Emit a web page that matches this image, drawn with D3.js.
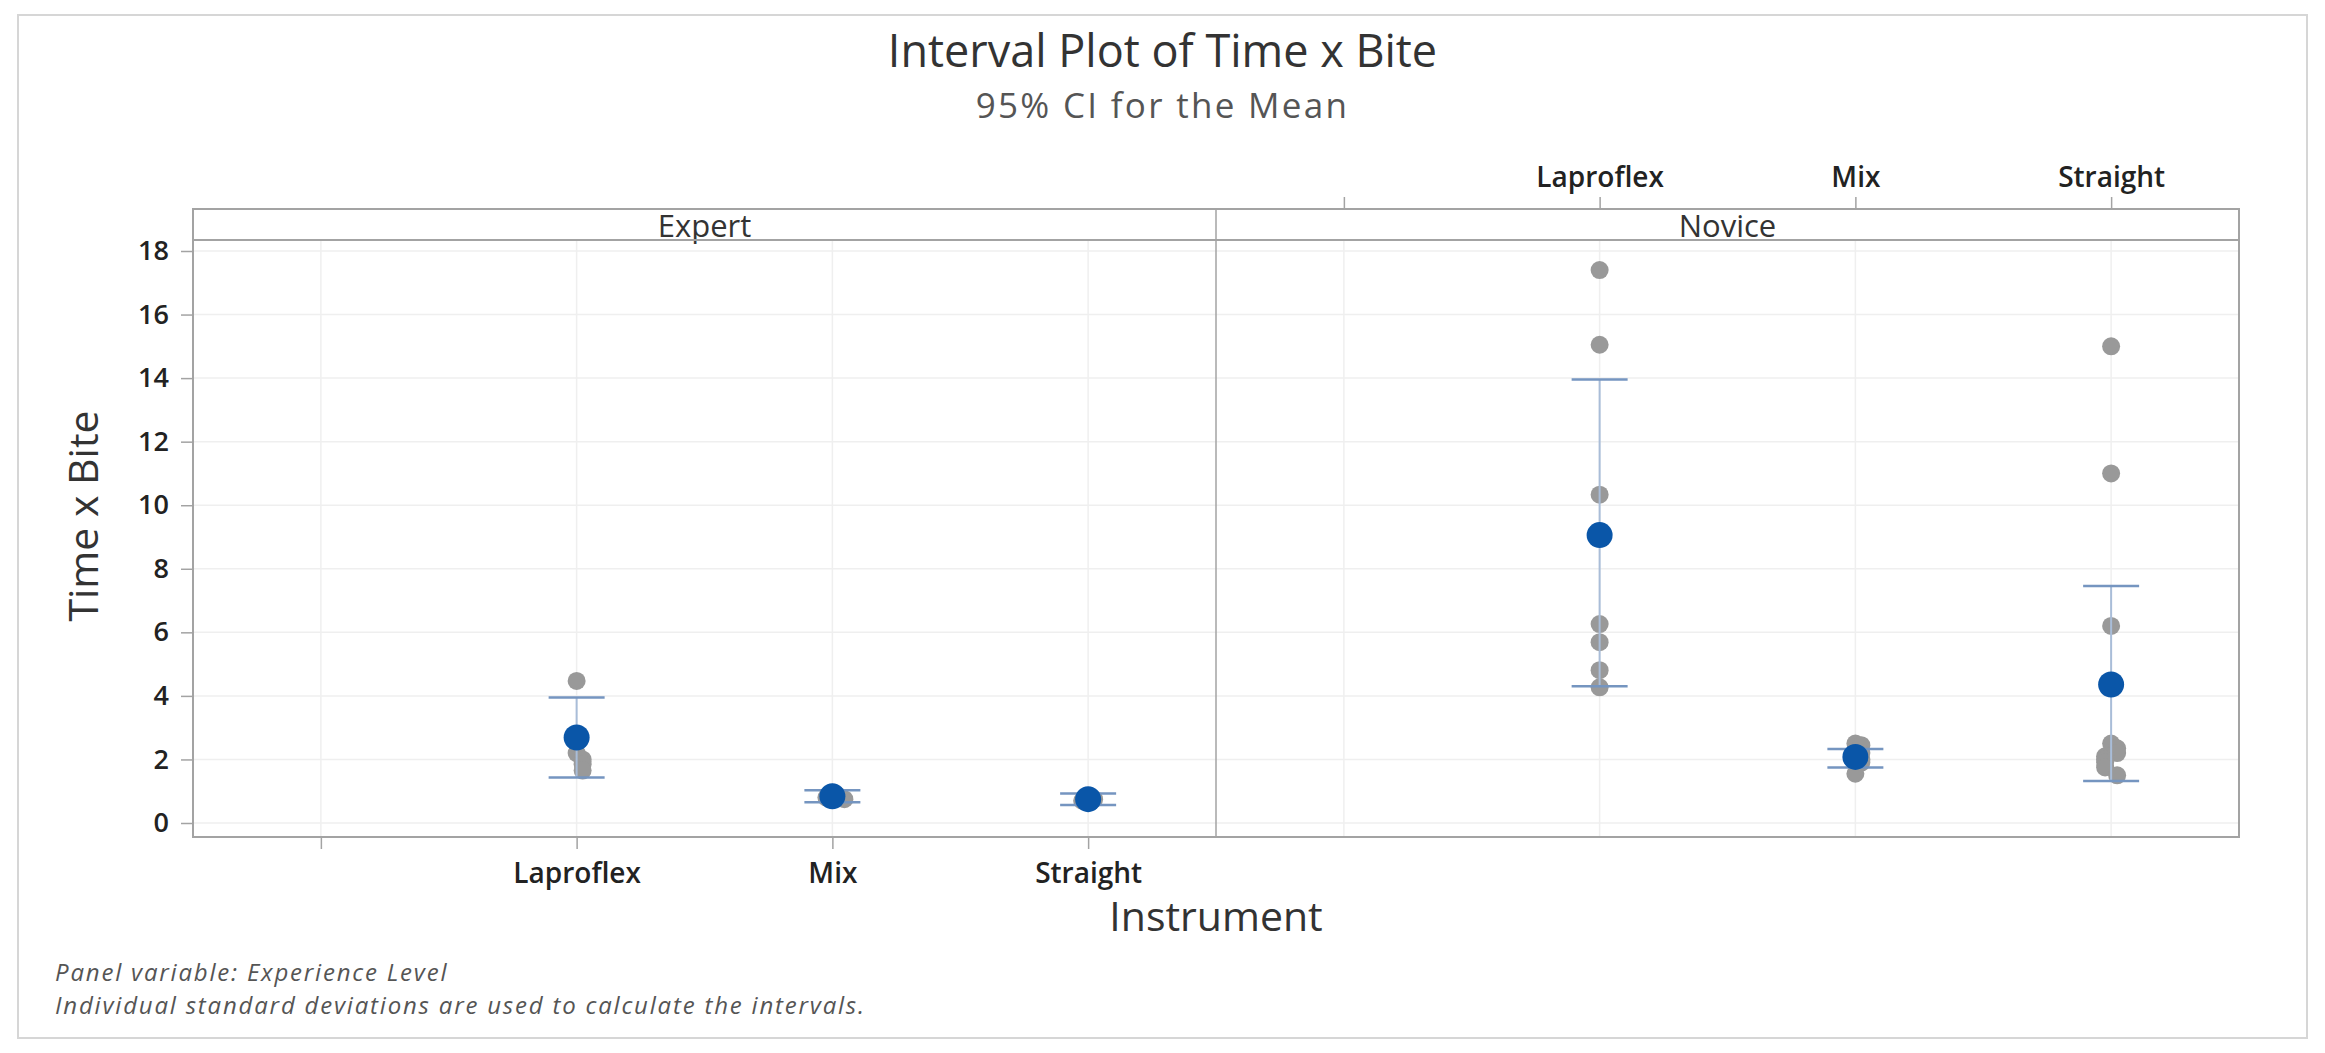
<!DOCTYPE html>
<html>
<head>
<meta charset="utf-8">
<script src="https://cdn.jsdelivr.net/npm/d3@7"></script>
<style>
  html, body { margin: 0; padding: 0; background: #fff; }
  svg { display: block; }
  text { font-family: "Open Sans", "Noto Sans", sans-serif; }
</style>
</head>
<body>
<svg id="chart" width="2325" height="1053"></svg>
<script>
// ---------------- DATA ----------------
const levels = ["Expert", "Novice"];
const instruments = ["Laproflex", "Mix", "Straight"];
const yTicks = [0, 2, 4, 6, 8, 10, 12, 14, 16, 18];

const expertMeans = [2.69, 0.84, 0.75];
const expertLower = [1.43, 0.65, 0.57];
const expertUpper = [3.95, 1.03, 0.93];

const noviceMeans = [9.06, 2.08, 4.36];
const noviceLower = [4.30, 1.75, 1.32];
const noviceUpper = [13.96, 2.33, 7.46];

const expertLaproflexObs = [4.47, 2.2, 2.0, 1.85, 1.65];
const expertMixObs = [0.95, 0.85, 0.8, 0.75];
const expertStraightObs = [0.82, 0.75, 0.7];

const noviceLaproflexObs = [17.4, 15.05, 10.33, 6.26, 5.69, 4.81, 4.27];
const noviceMixObs = [2.5, 2.45, 2.2, 2.0, 1.9, 1.55];
const noviceStraightObs = [15.0, 11.0, 6.2, 2.5, 2.35, 2.2, 2.1, 2.0, 1.9, 1.75, 1.5];

const titleText = "Interval Plot of Time x Bite";
const subtitleText = "95% CI for the Mean";
const yTitle = "Time x Bite";
const xTitle = "Instrument";
const notes = ["Panel variable: Experience Level",
               "Individual standard deviations are used to calculate the intervals."];

// ---------------- LAYOUT ----------------
const svg = d3.select("#chart");
const W = 2325, H = 1053;
const frame = { left: 193, right: 2239, top: 209, stripBottom: 240, bottom: 837 };
const panelW = (frame.right - frame.left) / levels.length;

const panels = [
  { name: levels[0], means: expertMeans, lower: expertLower, upper: expertUpper,
    obs: [expertLaproflexObs, expertMixObs, expertStraightObs], axis: "bottom" },
  { name: levels[1], means: noviceMeans, lower: noviceLower, upper: noviceUpper,
    obs: [noviceLaproflexObs, noviceMixObs, noviceStraightObs], axis: "top" }
];

const slots = [" "].concat(instruments);
const y = d3.scaleLinear().domain([0, 18]).range([823, 251]);

const gridColor = "#efefef";
const frameColor = "#a3a3a3";
const grayDot = "#999999";
const meanBlue = "#0a56a8";
const ciLine = "#a9bdd8";
const ciCap = "#7595c0";
const tickFont = '"Open Sans", sans-serif';

// outer border
svg.append("rect").attr("x", 18).attr("y", 15).attr("width", 2289).attr("height", 1023)
  .attr("fill", "#fff").attr("stroke", "#d6d6d6").attr("stroke-width", 2);

// title
svg.append("text").attr("x", W / 2).attr("y", 67).attr("text-anchor", "middle")
  .attr("font-size", 45).attr("fill", "#333").text(titleText);
svg.append("text").attr("x", W / 2).attr("y", 118).attr("text-anchor", "middle")
  .attr("font-size", 35).attr("letter-spacing", 2.3).attr("fill", "#555").text(subtitleText);

// horizontal gridlines across all panels
svg.append("g").selectAll("line").data(yTicks).join("line")
  .attr("x1", frame.left).attr("x2", frame.right)
  .attr("y1", d => y(d)).attr("y2", d => y(d))
  .attr("stroke", gridColor).attr("stroke-width", 1.5);

panels.forEach((p, i) => {
  const x0 = frame.left + i * panelW;
  const x = d3.scalePoint().domain(slots).range([x0, x0 + panelW]).padding(0.5);
  const g = svg.append("g");

  // vertical gridlines
  g.selectAll("line.vg").data(slots).join("line").attr("class", "vg")
    .attr("x1", d => x(d)).attr("x2", d => x(d))
    .attr("y1", frame.stripBottom).attr("y2", frame.bottom)
    .attr("stroke", gridColor).attr("stroke-width", 1.5);

  // strip label
  g.append("text").attr("x", x0 + panelW / 2).attr("y", 237).attr("text-anchor", "middle")
    .attr("font-size", 31).attr("fill", "#333").text(p.name);

  // axis
  const axisFn = p.axis === "bottom" ? d3.axisBottom(x) : d3.axisTop(x);
  const ax = g.append("g")
    .attr("transform", `translate(0,${p.axis === "bottom" ? frame.bottom : frame.top})`)
    .call(axisFn.tickSize(12).tickPadding(p.axis === "bottom" ? 12 : 10).tickFormat(d => d.trim()));
  ax.select(".domain").remove();
  ax.selectAll(".tick line").attr("stroke", frameColor).attr("stroke-width", 1.5);
  ax.selectAll(".tick text").attr("font-size", 28).attr("font-weight", 600)
    .attr("fill", "#222")
    .style("font-family", tickFont);
  if (p.axis === "bottom") ax.selectAll(".tick text").attr("dy", "0.8em");

  // observations (gray), with small deterministic side-by-side spread for overlaps
  instruments.forEach((inst, j) => {
    const vals = p.obs[j];
    const placed = [];
    const pts = vals.map(v => {
      const py = y(v);
      const k = placed.filter(q => Math.abs(q - py) < 9).length;
      placed.push(py);
      const off = k === 0 ? 0 : (k % 2 ? 1 : -1) * Math.ceil(k / 2) * 6;
      return { v, off };
    });
    g.selectAll(null).data(pts).join("circle")
      .attr("cx", d => x(inst) + d.off).attr("cy", d => y(d.v)).attr("r", 9)
      .attr("fill", grayDot);
  });

  // CI lines
  g.selectAll("line.ci").data(instruments).join("line").attr("class", "ci")
    .attr("x1", d => x(d)).attr("x2", d => x(d))
    .attr("y1", (d, j) => y(p.upper[j])).attr("y2", (d, j) => y(p.lower[j]))
    .attr("stroke", ciLine).attr("stroke-width", 2);
  // caps
  ["upper", "lower"].forEach(key => {
    g.selectAll(null).data(instruments).join("line")
      .attr("x1", d => x(d) - 28).attr("x2", d => x(d) + 28)
      .attr("y1", (d, j) => y(p[key][j])).attr("y2", (d, j) => y(p[key][j]))
      .attr("stroke", ciCap).attr("stroke-width", 2.5);
  });
  // means
  g.selectAll("circle.mean").data(instruments).join("circle").attr("class", "mean")
    .attr("cx", d => x(d)).attr("cy", (d, j) => y(p.means[j])).attr("r", 13)
    .attr("fill", meanBlue);
});

// frame lines
const fg = svg.append("g").attr("fill", "none").attr("stroke", frameColor).attr("stroke-width", 2);
fg.append("rect").attr("x", frame.left).attr("y", frame.top)
  .attr("width", frame.right - frame.left).attr("height", frame.bottom - frame.top);
fg.append("line").attr("x1", frame.left).attr("x2", frame.right)
  .attr("y1", frame.stripBottom).attr("y2", frame.stripBottom);
for (let i = 1; i < levels.length; i++) {
  fg.append("line").attr("x1", frame.left + i * panelW).attr("x2", frame.left + i * panelW)
    .attr("y1", frame.top).attr("y2", frame.bottom).attr("stroke-width", 1.5);
}

// y axis
const yAx = svg.append("g").attr("transform", `translate(${frame.left},0)`)
  .call(d3.axisLeft(y).tickValues(yTicks).tickSize(12).tickPadding(12));
yAx.select(".domain").remove();
yAx.selectAll(".tick line").attr("stroke", frameColor).attr("stroke-width", 1.5);
yAx.selectAll(".tick text").attr("font-size", 27).attr("font-weight", 600).attr("fill", "#222")
  .style("font-family", tickFont);

// axis titles
svg.append("text").attr("transform", "translate(98,516) rotate(-90)")
  .attr("text-anchor", "middle").attr("font-size", 41).attr("fill", "#333").text(yTitle);
svg.append("text").attr("x", (frame.left + frame.right) / 2).attr("y", 931)
  .attr("text-anchor", "middle").attr("font-size", 41).attr("fill", "#333").text(xTitle);

// notes
svg.append("g").selectAll("text").data(notes).join("text")
  .attr("x", 55).attr("y", (d, i) => 981 + i * 33)
  .attr("font-size", 24).attr("letter-spacing", 1.8).attr("font-style", "italic")
  .attr("fill", "#555").text(d => d);
</script>
</body>
</html>
